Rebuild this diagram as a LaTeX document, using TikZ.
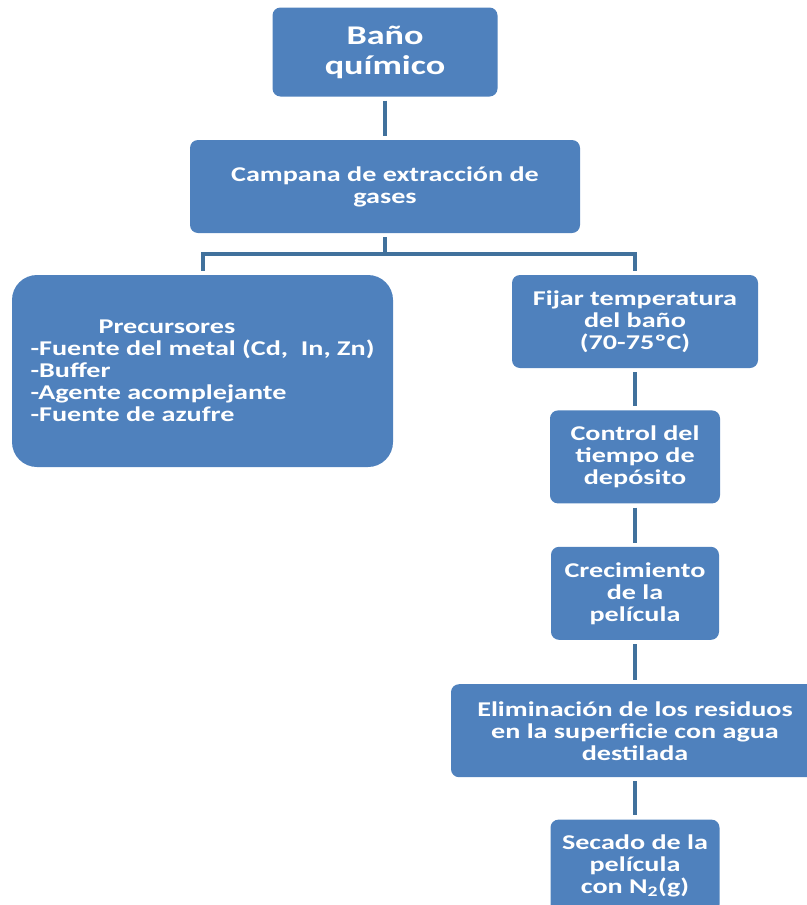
\documentclass[tikz,border=0pt]{standalone}
\usepackage{fontspec}
\setmainfont{Carlito}[FakeStretch=1.34]
\usetikzlibrary{positioning}

\definecolor{boxblue}{HTML}{4F81BD}
\definecolor{lineblue}{HTML}{41719C}

\tikzset{
  stage/.style={rectangle, rounded corners=8pt, fill=boxblue, text=white,
    font=\bfseries\fontsize{21}{22}\selectfont, align=center, inner sep=2pt,
    minimum height=93pt},
  link/.style={draw=lineblue, line width=4pt, shorten <=4pt, shorten >=4pt}
}

\begin{document}
\begin{tikzpicture}[x=1pt,y=-1pt]
\useasboundingbox (0,0) rectangle (806,905);

% top of the tree
\node[stage, minimum width=225pt, minimum height=89pt,
  font=\bfseries\fontsize{27}{30}\selectfont] (bano) at (385,52) {Baño\\químico};
\node[stage, minimum width=390pt] (campana) at (385,186.5) {Campana de extracción de\\gases};

% the two branches
\node[stage, rounded corners=25pt, minimum width=381pt, minimum height=192pt, align=left]
  (precursores) at (202.5,371)
  {\hspace*{68pt}Precursores\\-Fuente del metal (Cd,\ \ In, Zn)\\-Buffer\\-Agente acomplejante\\-Fuente de azufre};
\node[stage, minimum width=246pt] (fijar) at (635,321.5) {Fijar temperatura\\del baño\\(70-75ºC)};

% right column, one below the other
\node[stage, minimum width=170pt, below=42pt of fijar] (control) {Control del\\tiempo de\\depósito};
\node[stage, minimum width=168pt, below=43pt of control] (crecimiento) {Crecimiento\\de la\\película};
\node[stage, minimum width=368pt, below=44pt of crecimiento] (eliminacion)
  {Eliminación de los residuos\\en la superficie con agua\\destilada};
\node[stage, minimum width=169pt, below=42pt of eliminacion] (secado)
  {Secado de la\\película\\con N\textsubscript{2}(g)};

\coordinate (split) at (385,254);

\draw[link] (bano) -- (campana);
\draw[link, shorten >=0pt] (campana) -- (split);
\draw[link] (precursores.north) |- (split) -| (fijar.north);
\draw[link] (fijar) -- (control);
\draw[link] (control) -- (crecimiento);
\draw[link] (crecimiento) -- (eliminacion);
\draw[link] (eliminacion) -- (secado);
\end{tikzpicture}
\end{document}
